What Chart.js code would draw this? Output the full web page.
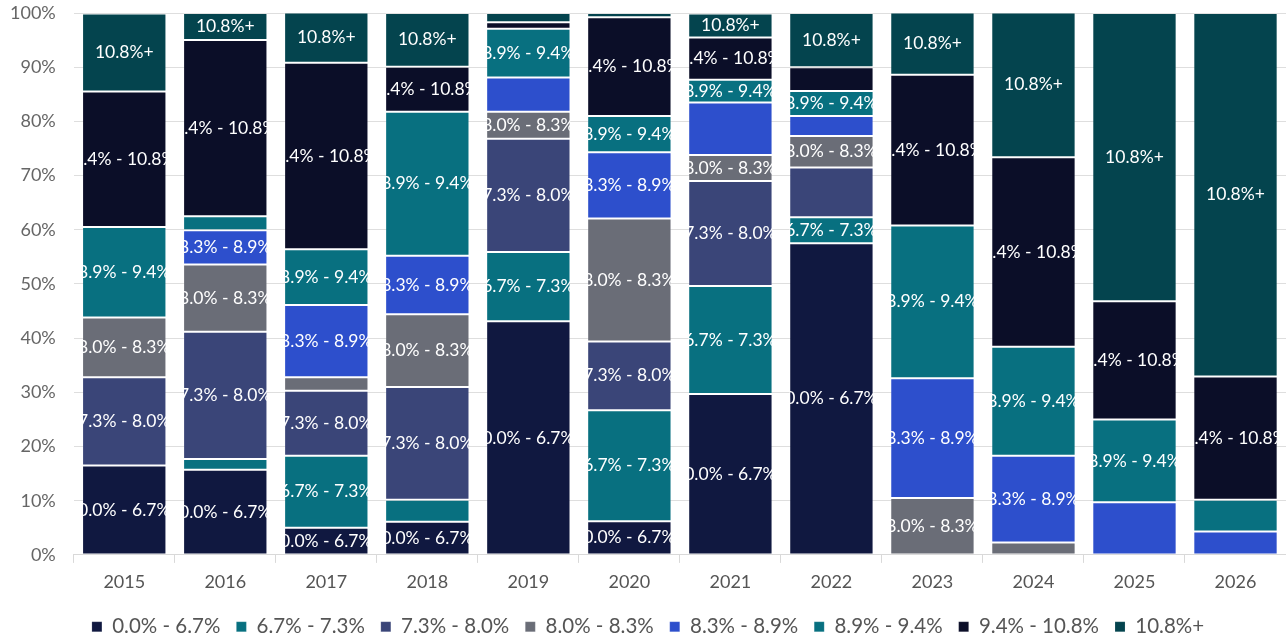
<!DOCTYPE html>
<html lang="en">
<head>
    <meta charset="UTF-8">
    <title>Stacked share by rate band</title>
    <script src="https://cdn.jsdelivr.net/npm/chart.js"></script>
    <style>
        body { margin: 0; background: #fff; }
        .chart-container { width: 1286px; height: 639px; }
    </style>
</head>
<body>
    <div class="chart-container">
        <canvas id="bandChart"></canvas>
    </div>

    <script>
        // years on the x axis
        const years = ['2015', '2016', '2017', '2018', '2019', '2020', '2021', '2022', '2023', '2024', '2025', '2026'];

        // rate bands (series names)
        const bands = ['0.0% - 6.7%', '6.7% - 7.3%', '7.3% - 8.0%', '8.0% - 8.3%', '8.3% - 8.9%', '8.9% - 9.4%', '9.4% - 10.8%', '10.8%+'];

        // share of each band per year (%)
        const band0 = [16.5, 15.7, 5.0, 6.1, 43.1, 6.2, 29.7, 57.5, 0, 0, 0, 0];
        const band1 = [0, 2.0, 13.3, 4.1, 12.8, 20.5, 19.9, 4.8, 0, 0, 0, 0];
        const band2 = [16.3, 23.5, 12.0, 20.8, 20.9, 12.7, 19.4, 9.2, 0, 0, 0, 0];
        const band3 = [11.0, 12.4, 2.5, 13.4, 5.0, 22.7, 4.8, 5.8, 10.5, 2.3, 0, 0];
        const band4 = [0, 6.3, 13.3, 10.8, 6.3, 12.2, 9.7, 3.7, 22.1, 16.0, 9.7, 4.3];
        const band5 = [16.7, 2.6, 10.3, 26.6, 9.0, 6.7, 4.2, 4.6, 28.2, 20.1, 15.3, 5.9];
        const band6 = [25.0, 32.5, 34.4, 8.3, 1.2, 18.2, 7.8, 4.4, 27.8, 35.0, 21.8, 22.7];
        const band7 = [14.4, 5.0, 9.3, 9.9, 1.7, 0.8, 4.4, 10.0, 11.5, 26.7, 53.2, 67.1];

        const colors = ['#101840', '#087080', '#3a4578', '#6a6d77', '#2d4fcc', '#087080', '#0b0e28', '#04444e'];

        // segments in the picture that carry no label
        const minLabelValue = 4.2;
        const labelsOff = [
            ['2019', '8.3% - 8.9%'], ['2021', '8.3% - 8.9%'], ['2022', '7.3% - 8.0%'],
            ['2022', '9.4% - 10.8%'], ['2025', '8.3% - 8.9%'], ['2026', '8.3% - 8.9%'],
            ['2026', '8.9% - 9.4%']
        ];

        const series = [band0, band1, band2, band3, band4, band5, band6, band7];
        const fontFamily = 'Lato, "Open Sans", sans-serif';

        // draws the band name inside each segment, clipped to the bar
        const segmentLabels = {
            id: 'segmentLabels',
            afterDatasetsDraw(chart) {
                const ctx = chart.ctx;
                chart.data.datasets.forEach((ds, di) => {
                    const meta = chart.getDatasetMeta(di);
                    meta.data.forEach((bar, i) => {
                        const v = ds.data[i];
                        if (v < minLabelValue) return;
                        if (labelsOff.some(p => p[0] === years[i] && p[1] === ds.label)) return;
                        const { x, y, base, width } = bar.getProps(['x', 'y', 'base', 'width'], true);
                        const top = Math.min(y, base), h = Math.abs(base - y);
                        ctx.save();
                        ctx.beginPath();
                        ctx.rect(x - width / 2, top, width, h);
                        ctx.clip();
                        ctx.fillStyle = '#ffffff';
                        ctx.font = '17.5px ' + fontFamily;
                        ctx.textAlign = 'center';
                        ctx.textBaseline = 'middle';
                        ctx.fillText(ds.label, x, top + h / 2);
                        ctx.restore();
                    });
                });
            }
        };

        const ctx = document.getElementById('bandChart').getContext('2d');

        new Chart(ctx, {
            type: 'bar',
            data: {
                labels: years,
                datasets: bands.map((name, k) => ({
                    label: name,
                    data: series[k],
                    backgroundColor: colors[k],
                    borderColor: 'rgba(255,255,255,0.14)',
                    borderWidth: 1,
                    borderSkipped: false,
                    barPercentage: 1,
                    categoryPercentage: 0.835
                }))
            },
            options: {
                responsive: true,
                maintainAspectRatio: false,
                animation: false,
                layout: { padding: { top: 13, right: 0, left: 10, bottom: -8 } },
                plugins: {
                    tooltip: { enabled: false },
                    legend: {
                        position: 'bottom',
                        labels: {
                            boxWidth: 10,
                            boxHeight: 10,
                            padding: 16,
                            color: '#555',
                            font: { family: fontFamily, size: 20.5 }
                        }
                    }
                },
                scales: {
                    x: {
                        stacked: true,
                        grid: { offset: true, drawOnChartArea: false, tickLength: 8, color: '#d9d9d9' },
                        border: { color: '#d9d9d9' },
                        ticks: { color: '#555', font: { family: fontFamily, size: 18 }, padding: 8 }
                    },
                    y: {
                        stacked: true,
                        min: 0,
                        max: 100,
                        grid: { color: '#dedede', drawTicks: true, tickLength: 18, tickColor: 'rgba(0,0,0,0)' },
                        border: { display: false },
                        ticks: {
                            stepSize: 10,
                            color: '#666',
                            padding: 0,
                            font: { family: fontFamily, size: 18 },
                            callback: v => v + '%'
                        }
                    }
                }
            },
            plugins: [segmentLabels]
        });
    </script>
</body>
</html>
